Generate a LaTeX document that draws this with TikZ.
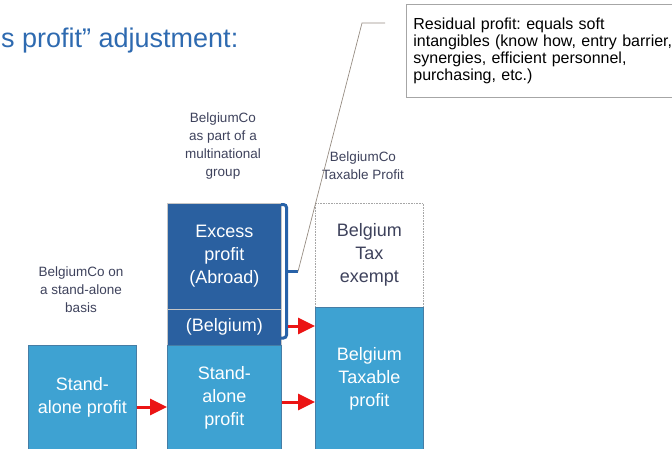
\documentclass[tikz,border=0pt]{standalone}
\usepackage{fontspec}
\setmainfont{Liberation Sans}
\usetikzlibrary{arrows.meta}
\definecolor{lightbar}{RGB}{62,162,210}
\definecolor{lightedge}{RGB}{70,125,165}
\definecolor{darkbar}{RGB}{42,96,160}
\definecolor{labeltext}{RGB}{62,66,92}
\definecolor{titleblue}{RGB}{46,106,176}
\definecolor{bracecol}{RGB}{40,98,168}
\definecolor{arrowred}{RGB}{235,20,20}
\definecolor{leadcol}{RGB}{150,140,130}
\frenchspacing

\begin{document}
\begin{tikzpicture}[x=1pt, y=-1pt,
	bar/.style={anchor=north west, inner sep=0pt, align=center, font=\fontsize{18}{23}\selectfont},
	light/.style={bar, fill=lightbar, draw=lightedge, line width=0.6pt, text=white},
	dark/.style={bar, fill=darkbar, draw=gray!45, line width=0.6pt, text=white},
	exempt/.style={bar, fill=white, draw=gray!70, densely dotted, line width=0.6pt, text=labeltext},
	head/.style={align=center, text=labeltext, font=\fontsize{13.5}{18}\selectfont},
	redarrow/.style={arrowred, line width=3pt, -{Triangle[length=17pt, width=16pt]}},
	brace/.style={bracecol, line width=3pt, rounded corners=3pt},
	leader/.style={leadcol, line width=0.7pt}]
		\useasboundingbox (0,0) rectangle (672,448);
		\clip (0,0) rectangle (672,448);
		% title and callout
		\node[anchor=base west, inner sep=0pt, text=titleblue, font=\fontsize{27}{30}\selectfont] (H) at (1,47) {s profit” adjustment:};
		\node[anchor=north west, draw=gray!70, line width=0.7pt, inner xsep=7pt, inner ysep=6pt, align=left,
		  text width=270pt, minimum height=93pt, font=\fontsize{16}{16.8}\selectfont] (R) at (406,4)
		  {Residual profit: equals soft\\intangibles (know how, entry barrier,\\synergies, efficient personnel,\\purchasing, etc.)};
		% column 1
		\node[light, minimum width=108pt, minimum height=105pt] (A) at (28,345) {Stand-\\alone profit};
		\node[head] (HA) at (81,290) {BelgiumCo on\\a stand-alone\\basis};
		% column 2
		\node[dark, minimum width=114pt, minimum height=106pt] (E) at (167,203) {Excess\\profit\\(Abroad)};
		\node[dark, minimum width=114pt, minimum height=36pt] (B) at (167,309) {(Belgium)};
		\node[light, minimum width=114pt, minimum height=105pt] (S) at (167,345) {Stand-\\alone\\profit};
		\node[head] (HS) at (223,146) {BelgiumCo\\as part of a\\multinational\\group};
		% column 3
		\node[exempt, minimum width=108pt, minimum height=104pt] (X) at (315,203) {Belgium\\Tax\\exempt};
		\node[light, minimum width=108pt, minimum height=143pt] (T) at (315,307) {Belgium\\Taxable\\profit};
		\node[head] (HT) at (363,166) {BelgiumCo\\Taxable Profit};
		% brace and leader
		\coordinate (Bt) at (281,204.5);
		\coordinate (Bb) at (281,338);
		\coordinate (Bm) at (298,271.5);
		\coordinate (K) at (362,23);
		\coordinate (L) at (385,23);
		\draw[brace] (Bt) -- (286.5,204.5) -- (286.5,338) -- (Bb);
		\draw[bracecol, line width=3pt] (286.5,271.5) -- (Bm);
		\draw[leader] (Bm) -- (K) -- (L);
		% arrows
		\coordinate (a1) at (0,407);
		\coordinate (a2) at (0,326);
		\coordinate (a3) at (0,402);
		\draw[redarrow] (A.east |- a1) -- (S.west |- a1);
		\draw[redarrow] (288,326) -- (T.west |- a2);
		\draw[redarrow] (S.east |- a3) -- (T.west |- a3);
\end{tikzpicture}
\end{document}
